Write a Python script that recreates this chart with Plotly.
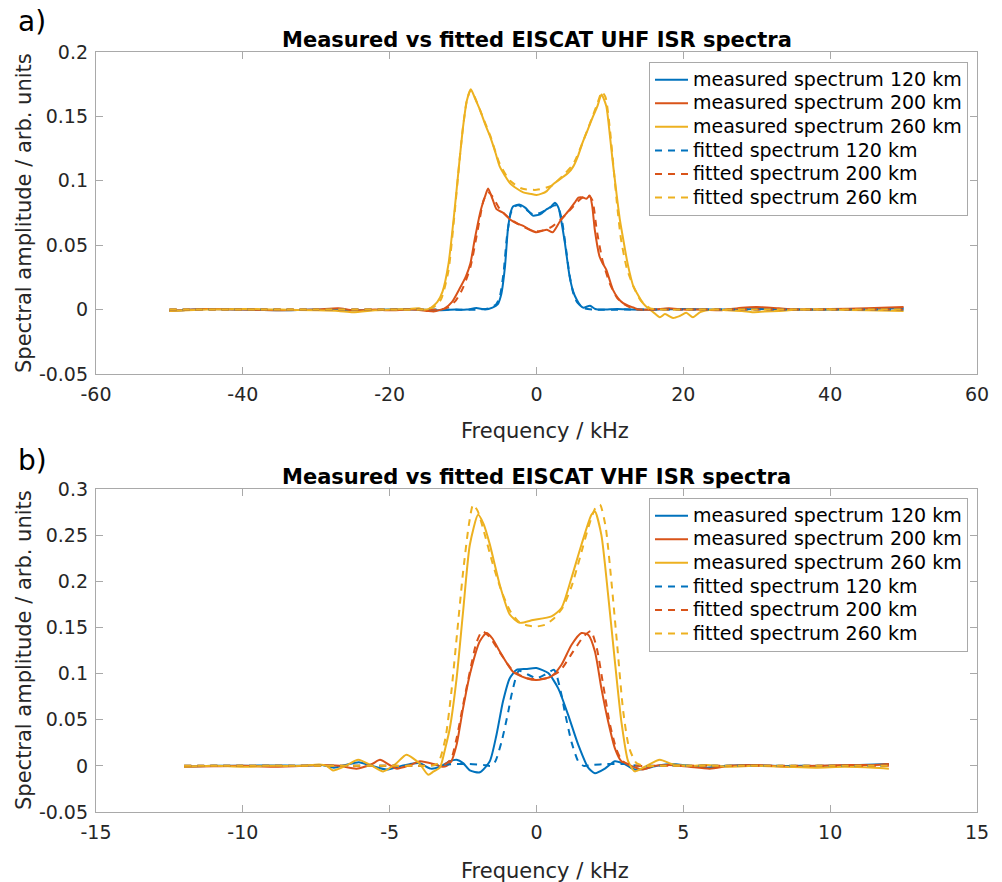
import plotly.graph_objects as go

# ---------------- DATA ----------------
# Panel a) EISCAT UHF, frequency in kHz
uhf_m120_x = [-50, -45, -40, -35, -30, -25, -20, -16, -13, -11, -9.5, -8.2, -7, -6, -5.3, -4.8, -4.3, -3.9, -3.5, -3.2, -2.3, -1.5, -0.5, 0.5, 1.4, 2.0, 2.5, 3.0, 3.4, 3.86, 4.5, 5.0, 5.45, 6.0, 6.4, 7.3, 8.0, 9, 11, 13, 16, 20, 25, 30, 35, 40, 45, 50]
uhf_m120_y = [-0.001, 0.0005, 0.0, -0.0005, 0.0, -0.0005, 0.0, 0.0, -0.0005, 0.0, 0.0, 0.0012, 0.0, 0.0015, 0.004, 0.012, 0.033, 0.062, 0.076, 0.080, 0.0815, 0.079, 0.073, 0.074, 0.078, 0.080, 0.083, 0.079, 0.068, 0.052, 0.026, 0.014, 0.008, 0.003, 0.0015, 0.003, 0.0005, 0.0, 0.0005, 0.0, 0.0, 0.0005, 0.0, 0.0005, 0.0, 0.0, 0.0005, 0.001]

uhf_m200_x = [-50, -45, -40, -35, -30, -27, -25, -22, -20, -17, -15, -14, -13, -12.5, -11.5, -10.5, -9.6, -9.0, -8.4, -7.6, -7.0, -6.6, -6.0, -5.45, -4.5, -3.6, -2.7, -1.8, -0.9, 0, 0.7, 1.4, 2.2, 3.2, 4.5, 5.2, 5.7, 6.35, 6.8, 7.26, 7.6, 7.94, 8.6, 9.0, 9.5, 10.4, 11.1, 11.8, 12.5, 13.2, 14, 16, 18, 20, 22, 25, 28, 30, 33, 36, 40, 45, 50]
uhf_m200_y = [-0.001, 0.0005, 0.0, -0.0005, 0.0, 0.001, -0.0005, 0.0, -0.0005, 0.0, -0.001, -0.0015, 0.0, 0.001, 0.006, 0.016, 0.026, 0.036, 0.055, 0.077, 0.088, 0.094, 0.086, 0.078, 0.075, 0.070, 0.067, 0.065, 0.062, 0.060, 0.061, 0.062, 0.060, 0.0686, 0.0776, 0.083, 0.087, 0.087, 0.086, 0.0885, 0.080, 0.062, 0.041, 0.036, 0.031, 0.0155, 0.009, 0.005, 0.003, 0.0016, 0.0, 0.0, 0.001, 0.0, 0.0, -0.0005, 0.0015, 0.002, 0.001, 0.0, 0.0005, 0.001, 0.002]

uhf_m260_x = [-50, -45, -40, -35, -30, -27, -25, -22, -20, -17.5, -16, -15.5, -14.5, -13.5, -12.8, -12.0, -11.2, -10.5, -10.0, -9.5, -8.95, -8.3, -7.7, -7.0, -6.36, -5.6, -5.0, -4.3, -3.6, -2.7, -1.8, -0.9, 0, 0.7, 1.4, 2.2, 2.9, 3.6, 4.3, 5, 5.7, 6.3, 7.0, 7.7, 8.3, 8.85, 9.5, 10.0, 10.4, 10.9, 11.35, 11.8, 12.3, 12.8, 13.2, 14.5, 15.2, 15.9, 16.8, 17.5, 18.6, 19.5, 20.4, 21.3, 22.3, 24, 26, 28, 29.5, 31, 33, 36, 40, 45, 50]
uhf_m260_y = [-0.001, 0.0, 0.0005, 0.0, -0.0005, -0.001, -0.002, -0.0005, 0.0, 0.0005, 0.001, 0.0, 0.001, 0.006, 0.014, 0.035, 0.075, 0.115, 0.142, 0.162, 0.171, 0.163, 0.155, 0.144, 0.135, 0.122, 0.111, 0.104, 0.098, 0.094, 0.091, 0.090, 0.089, 0.090, 0.092, 0.097, 0.100, 0.103, 0.106, 0.111, 0.120, 0.130, 0.140, 0.150, 0.158, 0.167, 0.158, 0.135, 0.114, 0.090, 0.070, 0.055, 0.039, 0.026, 0.018, 0.005, 0.001, -0.002, -0.006, -0.0035, -0.0065, -0.005, -0.0025, -0.006, -0.002, 0.0, -0.0005, -0.001, -0.002, -0.0015, -0.001, 0.0, 0.0, -0.0005, -0.001]

uhf_f120_x = [-50, -40, -30, -20, -12, -8, -6.5, -5.5, -5, -4.5, -4, -3.5, -3, -2.5, -1.5, -0.5, 0.5, 1.5, 2.5, 3.0, 3.5, 4.0, 4.5, 5.0, 5.5, 6.5, 8, 12, 20, 30, 40, 50]
uhf_f120_y = [0, 0, 0, 0, 0, 0, 0.001, 0.004, 0.010, 0.028, 0.058, 0.075, 0.080, 0.081, 0.078, 0.074, 0.075, 0.078, 0.081, 0.079, 0.068, 0.048, 0.027, 0.013, 0.006, 0.001, 0, 0, 0, 0, 0, 0]

uhf_f200_x = [-50, -30, -20, -15, -13, -12, -11, -10, -9, -8, -7.2, -6.6, -6, -5, -3.5, -2, -0.5, 0.5, 2, 3.5, 5, 6, 7, 7.6, 8.2, 9, 10, 11, 12, 13, 14, 16, 20, 30, 40, 50]
uhf_f200_y = [0, 0, 0, 0, 0, 0.002, 0.007, 0.017, 0.033, 0.062, 0.085, 0.091, 0.088, 0.078, 0.070, 0.065, 0.061, 0.061, 0.064, 0.071, 0.080, 0.086, 0.089, 0.085, 0.062, 0.038, 0.020, 0.009, 0.004, 0.001, 0, 0, 0, 0, 0, 0]

uhf_f260_x = [-50, -30, -20, -16, -15, -14, -13, -12, -11.2, -10.5, -10, -9.5, -9.0, -8.5, -7.7, -7, -6.3, -5, -3.6, -2, 0, 2, 3.6, 5, 6.3, 7.5, 8.3, 8.9, 9.4, 10, 10.5, 11, 11.5, 12.3, 13.2, 14.2, 15.5, 17, 20, 30, 40, 50]
uhf_f260_y = [0, 0, 0, 0, 0.0005, 0.002, 0.008, 0.030, 0.072, 0.115, 0.142, 0.162, 0.170, 0.166, 0.155, 0.145, 0.135, 0.113, 0.100, 0.094, 0.093, 0.096, 0.104, 0.113, 0.130, 0.148, 0.160, 0.169, 0.165, 0.140, 0.110, 0.080, 0.055, 0.032, 0.018, 0.007, 0.001, 0, 0, 0, 0, 0]

# Panel b) EISCAT VHF, frequency in kHz
vhf_m120_x = [-12, -11, -10, -9, -8, -7.3, -6.9, -6.5, -6.05, -5.6, -5.1, -4.6, -4.0, -3.6, -3.29, -2.95, -2.72, -2.5, -2.27, -1.93, -1.59, -1.36, -1.14, -0.91, -0.68, -0.35, 0, 0.4, 0.74, 1.08, 1.42, 1.76, 1.99, 2.33, 2.67, 3.0, 3.35, 3.69, 4.1, 4.6, 5.2, 5.8, 6.5, 7.2, 8, 9, 10, 11, 12]
vhf_m120_y = [-0.001, 0.0, 0.0, 0.0005, 0.0, 0.001, -0.002, 0.001, 0.004, 0.0, -0.004, 0.0, 0.003, -0.003, -0.001, 0.005, 0.0066, 0.003, -0.005, -0.007, 0.005, 0.034, 0.070, 0.095, 0.104, 0.105, 0.106, 0.1005, 0.084, 0.055, 0.023, -0.002, -0.008, -0.003, 0.005, 0.002, -0.004, -0.003, 0.0, 0.002, 0.0, -0.002, 0.0, 0.001, 0.0, 0.0, 0.0, 0.001, 0.002]

vhf_m200_x = [-12, -11, -10, -9, -8, -7.3, -6.7, -6.13, -5.6, -5.33, -4.77, -4.3, -3.97, -3.5, -3.2, -3.06, -2.9, -2.72, -2.5, -2.27, -1.93, -1.7, -1.5, -1.25, -0.8, -0.34, 0, 0.51, 0.85, 1.19, 1.53, 1.76, 1.99, 2.21, 2.44, 2.67, 2.89, 3.23, 3.6, 4.0, 4.5, 5.2, 5.9, 6.6, 7.5, 8.5, 9.5, 10.5, 11.5, 12]
vhf_m200_y = [-0.001, -0.0005, 0.0, -0.001, 0.0, 0.001, 0.0, -0.003, 0.002, 0.0066, -0.003, 0.001, 0.005, 0.002, -0.001, 0.0, 0.005, 0.023, 0.0626, 0.099, 0.135, 0.144, 0.138, 0.124, 0.102, 0.095, 0.093, 0.097, 0.1095, 0.131, 0.1439, 0.142, 0.124, 0.084, 0.048, 0.019, 0.005, 0.0, -0.004, 0.0, 0.001, -0.001, -0.003, 0.0, 0.001, -0.001, 0.0, 0.001, 0.001, 0.002]

vhf_m260_x = [-12, -11, -10, -9, -8, -7.4, -7.15, -6.93, -6.5, -6.07, -5.6, -5.22, -4.8, -4.43, -4.0, -3.69, -3.5, -3.29, -3.1, -2.95, -2.72, -2.5, -2.27, -1.99, -1.8, -1.59, -1.25, -0.91, -0.57, -0.12, 0.51, 0.85, 1.19, 1.53, 1.87, 1.99, 2.21, 2.44, 2.67, 2.89, 3.12, 3.35, 3.69, 4.2, 4.6, 5.2, 5.8, 6.5, 7.5, 8.5, 9.5, 10.5, 11.5, 12]
vhf_m260_y = [-0.001, 0.0, -0.001, 0.0, 0.0, 0.0015, 0.0, -0.005, 0.0, 0.0066, 0.0, -0.006, 0.002, 0.012, 0.003, -0.0096, -0.006, -0.002, 0.020, 0.041, 0.095, 0.167, 0.2396, 0.272, 0.262, 0.240, 0.196, 0.164, 0.155, 0.158, 0.162, 0.171, 0.2035, 0.2396, 0.272, 0.2757, 0.250, 0.185, 0.113, 0.048, 0.005, -0.006, -0.001, 0.0066, 0.002, 0.0, 0.001, -0.001, 0.0, -0.001, -0.002, -0.001, -0.002, -0.003]

vhf_f120_x = [-12, -10, -8, -7, -6, -5, -4, -3.3, -2.8, -2.3, -1.8, -1.55, -1.4, -1.19, -0.96, -0.85, -0.6, -0.3, 0, 0.3, 0.6, 0.85, 0.96, 1.19, 1.42, 1.6, 1.9, 2.4, 3, 3.5, 4, 5, 6, 8, 10, 12]
vhf_f120_y = [0, 0, 0, 0, 0, 0, 0, 0.001, 0.002, 0.002, 0.001, 0.0, 0.005, 0.026, 0.059, 0.077, 0.103, 0.099, 0.095, 0.099, 0.104, 0.077, 0.059, 0.026, 0.005, 0.0, 0.001, 0.002, 0.002, 0.0, 0, 0, 0, 0, 0, 0]

vhf_f200_x = [-12, -8, -5, -4, -3.5, -3.1, -2.9, -2.72, -2.5, -2.27, -2.05, -1.85, -1.6, -1.25, -0.8, -0.34, 0, 0.34, 0.8, 1.25, 1.6, 1.85, 2.05, 2.27, 2.5, 2.72, 2.9, 3.1, 3.5, 4, 5, 8, 12]
vhf_f200_y = [0, 0, 0, 0, 0.001, 0.002, 0.008, 0.030, 0.066, 0.102, 0.133, 0.146, 0.140, 0.123, 0.103, 0.095, 0.094, 0.095, 0.103, 0.124, 0.140, 0.146, 0.128, 0.088, 0.045, 0.018, 0.006, 0.002, 0, 0, 0, 0, 0]

vhf_f260_x = [-12, -8, -5, -4, -3.6, -3.35, -3.1, -2.9, -2.7, -2.5, -2.3, -2.16, -2.0, -1.8, -1.5, -1.2, -0.9, -0.6, -0.3, 0, 0.3, 0.6, 0.9, 1.2, 1.5, 1.8, 2.0, 2.16, 2.35, 2.55, 2.75, 2.95, 3.15, 3.4, 3.7, 4.2, 5, 8, 12]
vhf_f260_y = [0, 0, 0, 0, 0, 0.003, 0.030, 0.080, 0.145, 0.210, 0.262, 0.283, 0.276, 0.255, 0.220, 0.190, 0.168, 0.156, 0.152, 0.151, 0.153, 0.160, 0.172, 0.195, 0.228, 0.262, 0.279, 0.283, 0.260, 0.200, 0.130, 0.060, 0.020, 0.003, 0, 0, 0, 0, 0]

series_names = ["measured spectrum 120 km", "measured spectrum 200 km", "measured spectrum 260 km",
                "fitted spectrum 120 km", "fitted spectrum 200 km", "fitted spectrum 260 km"]

uhf_xticks = [-60, -40, -20, 0, 20, 40, 60]
uhf_xticktext = ["-60", "-40", "-20", "0", "20", "40", "60"]
uhf_yticks = [-0.05, 0, 0.05, 0.1, 0.15, 0.2]
uhf_yticktext = ["-0.05", "0", "0.05", "0.1", "0.15", "0.2"]
vhf_xticks = [-15, -10, -5, 0, 5, 10, 15]
vhf_xticktext = ["-15", "-10", "-5", "0", "5", "10", "15"]
vhf_yticks = [-0.05, 0, 0.05, 0.1, 0.15, 0.2, 0.25, 0.3]
vhf_yticktext = ["-0.05", "0", "0.05", "0.1", "0.15", "0.2", "0.25", "0.3"]

title_a = "Measured vs fitted EISCAT UHF ISR spectra"
title_b = "Measured vs fitted EISCAT VHF ISR spectra"
xlabel = "Frequency / kHz"
ylabel = "Spectral amplitude / arb. units"

# ---------------- STYLE ----------------
colors = ["#0072BD", "#D95319", "#EDB120"]
W, H = 1002, 882
FONT = "DejaVu Sans"
AXC = "#a9a9a9"
LEG_TEXT = 19      # displayed legend text size
LEG_ROW = 15.8     # legend font size that sets the row pitch (1.3*f + 3)

def px_x(p):
    return p / W

def px_y(p):
    return 1 - p / H

fig = go.Figure()

panels = [
    (dict(xaxis="x", yaxis="y"), "legend",
     [(uhf_m120_x, uhf_m120_y), (uhf_m200_x, uhf_m200_y), (uhf_m260_x, uhf_m260_y),
      (uhf_f120_x, uhf_f120_y), (uhf_f200_x, uhf_f200_y), (uhf_f260_x, uhf_f260_y)]),
    (dict(xaxis="x2", yaxis="y2"), "legend2",
     [(vhf_m120_x, vhf_m120_y), (vhf_m200_x, vhf_m200_y), (vhf_m260_x, vhf_m260_y),
      (vhf_f120_x, vhf_f120_y), (vhf_f200_x, vhf_f200_y), (vhf_f260_x, vhf_f260_y)]),
]

for axes, leg, data in panels:
    for i, (xs, ys) in enumerate(data):
        dashed = i >= 3
        fig.add_trace(go.Scatter(
            x=xs, y=ys, mode="lines",
            name='<span style="font-size:%dpx">%s</span>' % (LEG_TEXT, series_names[i]),
            legend=leg,
            line=dict(color=colors[i % 3], width=2, shape="spline", smoothing=0.6,
                      dash="7px,6px" if dashed else "solid"),
            hoverinfo="skip", **axes))

def axis_style(**kw):
    d = dict(showline=True, linecolor=AXC, linewidth=1.3, mirror="allticks",
             ticks="inside", ticklen=7, tickwidth=1.3, tickcolor=AXC,
             showgrid=False, zeroline=False, automargin=False,
             tickfont=dict(family=FONT, size=19, color="#262626"))
    d.update(kw)
    return d

x0, x1 = px_x(96), px_x(977)
leg_common = dict(xanchor="left", yanchor="top", bgcolor="white", bordercolor=AXC,
                  borderwidth=1, tracegroupgap=0, itemwidth=33,
                  font=dict(family=FONT, size=LEG_ROW, color="#000000"))
fig.update_layout(
    width=W, height=H,
    margin=dict(l=0, r=0, t=0, b=0, autoexpand=False),
    paper_bgcolor="white", plot_bgcolor="white",
    xaxis=axis_style(domain=[x0, x1], range=[-60, 60], tickvals=uhf_xticks, ticktext=uhf_xticktext,
                     anchor="y", ticklabelstandoff=3),
    yaxis=axis_style(domain=[px_y(374), px_y(52)], range=[-0.05, 0.2], tickvals=uhf_yticks,
                     ticktext=uhf_yticktext, anchor="x", ticklabelstandoff=3),
    xaxis2=axis_style(domain=[x0, x1], range=[-15, 15], tickvals=vhf_xticks, ticktext=vhf_xticktext,
                      anchor="y2", ticklabelstandoff=3),
    yaxis2=axis_style(domain=[px_y(812), px_y(489)], range=[-0.05, 0.3], tickvals=vhf_yticks,
                      ticktext=vhf_yticktext, anchor="x2", ticklabelstandoff=3),
    legend=dict(x=px_x(649), y=px_y(62), **leg_common),
    legend2=dict(x=px_x(649), y=px_y(498), **leg_common),
    showlegend=True,
)

ann = []
def add_text(text, xp, yp, size, bold=False, angle=0, xanchor="center", color="#262626"):
    ann.append(dict(text=("<b>%s</b>" % text) if bold else text, x=px_x(xp), y=px_y(yp),
                    xref="paper", yref="paper", showarrow=False, xanchor=xanchor, yanchor="middle",
                    textangle=angle, font=dict(family=FONT, size=size, color=color)))

add_text(title_a, 536.5, 40, 21, bold=True, color="#000000")
add_text(title_b, 536.5, 477, 21, bold=True, color="#000000")
add_text(xlabel, 545, 431, 21)
add_text(xlabel, 545, 871, 21)
add_text(ylabel, 24, 213, 21, angle=-90)
add_text(ylabel, 24, 650, 21, angle=-90)
add_text("a)", 16, 22, 28, xanchor="left", color="#000000")
add_text("b)", 16, 461, 28, xanchor="left", color="#000000")
fig.update_layout(annotations=ann)

fig.write_html("out.html")
